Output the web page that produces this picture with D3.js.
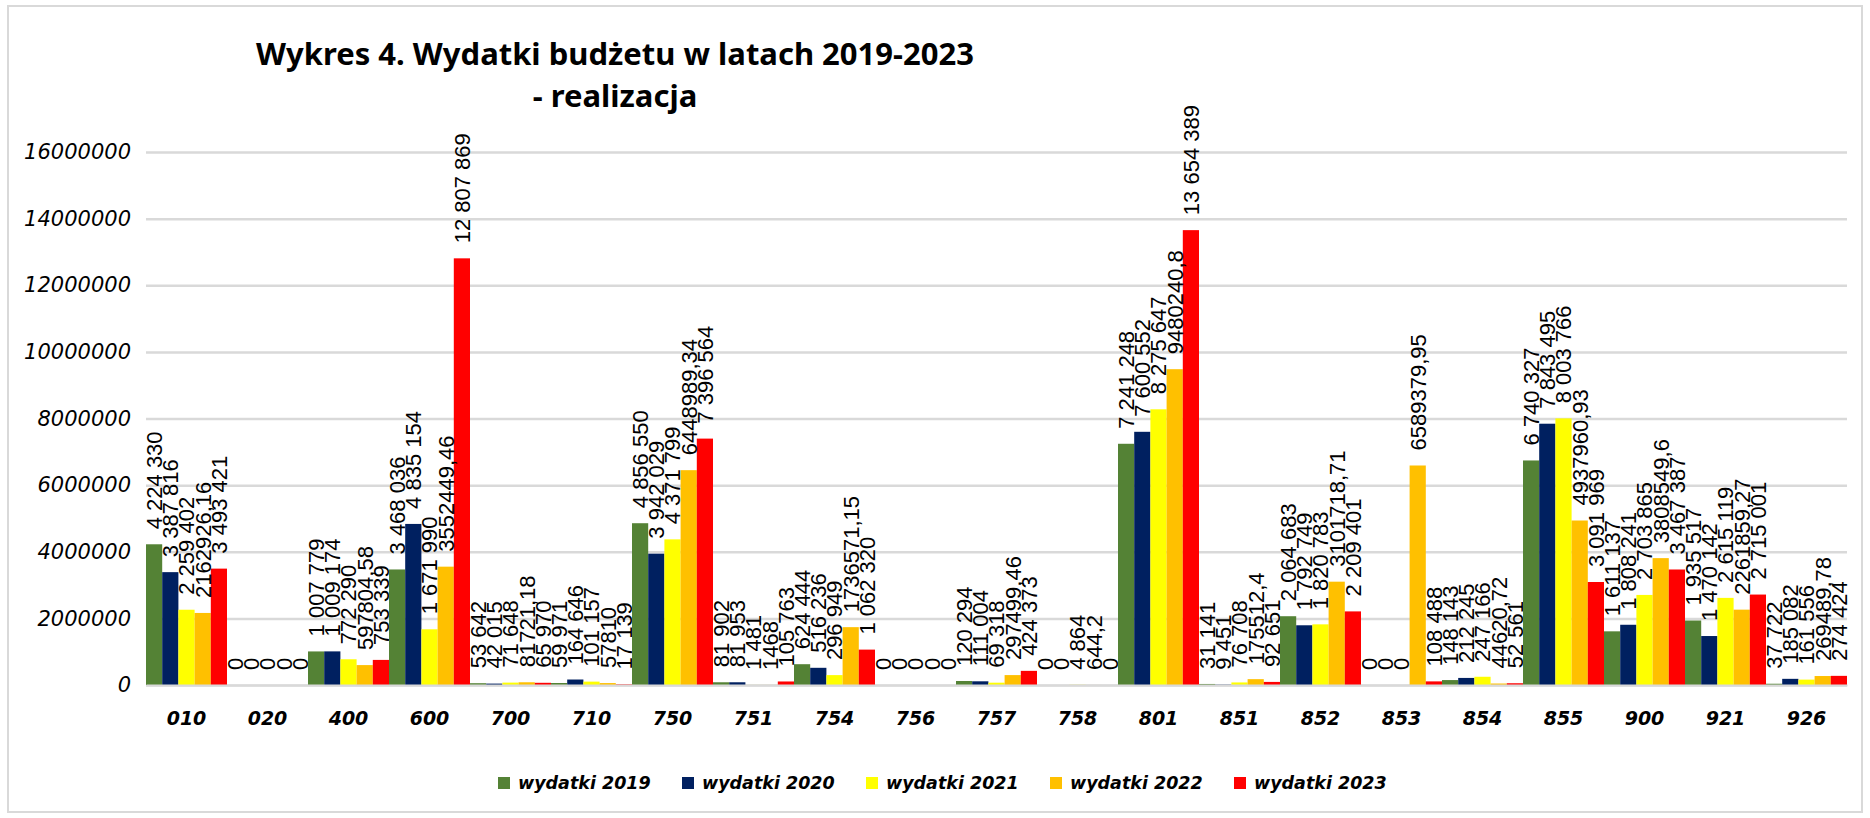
<!DOCTYPE html>
<html><head><meta charset="utf-8">
<script src="https://cdn.jsdelivr.net/npm/d3@7"></script>
<style>body{margin:0;background:#fff}svg{display:block}</style>
</head><body><svg id="c" width="1870" height="818"></svg>
<script>
const categories = ["010","020","400","600","700","710","750","751","754","756","757","758","801","851","852","853","854","855","900","921","926"];
const seriesNames = ["wydatki 2019","wydatki 2020","wydatki 2021","wydatki 2022","wydatki 2023"];
const v2019 = [4224330,0,1007779,3468036,53642,59971,4856550,81902,624444,0,120294,0,7241248,31141,2064683,0,148143,6740327,1611137,1935517,37722];
const v2020 = [3387816,0,1009174,4835154,42015,164646,3942029,81953,516236,0,111004,0,7600552,9451,1792749,0,212245,7843495,1808241,1470142,185082];
const v2021 = [2259402,0,772290,1671990,71648,101157,4371799,1481,296949,0,69318,4864,8275647,76708,1820783,0,247166,8003766,2703865,2615119,161556];
const v2022 = [2162926.16,0,597804.58,3552449.46,81721.18,57810,6448989.34,1468,1736571.15,0,297499.46,644.2,9480240.8,175512.4,3101718.71,6589379.95,44620.72,4937960.93,3808549.6,2261859.27,269489.78];
const v2023 = [3493421,0,753339,12807869,65970,17139,7396564,105763,1062320,0,424373,0,13654389,92651,2209401,108488,52561,3091969,3467387,2715001,274424];
const yTicks = [0,2000000,4000000,6000000,8000000,10000000,12000000,14000000,16000000];
const titleLines = ["Wykres 4. Wydatki budżetu w latach 2019-2023","- realizacja"];
const colors = ["#548235","#002060","#FFFF00","#FFC000","#FF0000"];
const seriesValues = [v2019,v2020,v2021,v2022,v2023];

const svg = d3.select("#c");
svg.append("rect").attr("x",8).attr("y",6).attr("width",1854).attr("height",806)
  .attr("fill","#fff").attr("stroke","#D9D9D9").attr("stroke-width",2);

const pL=146,pR=1847,pT=152,pB=685;
const x0 = d3.scaleBand().domain(categories).range([pL,pR]).padding(0);
const x1 = d3.scaleBand().domain(seriesNames).range([0,x0.bandwidth()]).padding(0);
const y = d3.scaleLinear().domain([0,16000000]).range([pB,pT]);

// gridlines
const grid = svg.append("g").attr("transform",`translate(${pL},0)`)
  .call(d3.axisLeft(y).tickValues(yTicks).tickSize(-(pR-pL)).tickFormat(""));
grid.select(".domain").remove();
grid.selectAll("line").attr("stroke","#D9D9D9").attr("stroke-width",2.5);

// y labels
const ya = svg.append("g").attr("transform",`translate(${pL},0)`)
  .call(d3.axisLeft(y).tickValues(yTicks).tickSize(0).tickPadding(15).tickFormat(d3.format("d")));
ya.select(".domain").remove();
ya.selectAll("text").attr("font-family","DejaVu Sans").attr("font-style","italic")
  .attr("font-size","21px").attr("fill","#000");

// bars
const groups = svg.append("g").selectAll("g").data(categories).join("g")
  .attr("transform",d=>`translate(${x0(d)},0)`);
groups.each(function(cat,ci){
  const g = d3.select(this);
  seriesNames.forEach((s,si)=>{
    const v = seriesValues[si][ci];
    g.append("rect").attr("x",x1(s)).attr("width",x1.bandwidth())
      .attr("y",y(v)).attr("height",pB-y(v)).attr("fill",colors[si]);
  });
});

// x axis line
const xa = svg.append("g").attr("transform",`translate(0,${pB})`)
  .call(d3.axisBottom(x0).tickSize(0).tickPadding(27));
xa.select(".domain").attr("stroke","#D9D9D9").attr("stroke-width",2);
xa.selectAll("text").attr("font-family","DejaVu Sans").attr("font-style","italic")
  .attr("font-weight","bold").attr("font-size","19px").attr("fill","#000");

// data labels
function fmt(v,si){
  if(si===3) return String(v).replace(".",",");
  return d3.format(",")(v).replace(/,/g,"\u00a0");
}
groups.each(function(cat,ci){
  const g = d3.select(this);
  seriesNames.forEach((s,si)=>{
    const v = seriesValues[si][ci];
    const cx = x1(s)+x1.bandwidth()/2;
    const ty = y(v)-15;
    g.append("text").attr("transform",`translate(${cx},${ty}) rotate(-90)`)
      .attr("dy","0.36em").attr("font-family","Liberation Sans").attr("font-size","22px")
      .attr("fill","#000").text(fmt(v,si));
  });
});

// title
svg.append("g").selectAll("text").data(titleLines).join("text")
  .attr("x",615).attr("y",(d,i)=>65+i*42).attr("text-anchor","middle")
  .attr("font-family","Noto Sans").attr("font-weight","bold").attr("font-size","31px")
  .attr("fill","#000").text(d=>d);

// legend
const legend = svg.append("g").attr("transform","translate(498,783)");
const li = legend.selectAll("g").data(seriesNames).join("g")
  .attr("transform",(d,i)=>`translate(${i*184},0)`);
li.append("rect").attr("x",0).attr("y",-6).attr("width",12).attr("height",12).attr("fill",(d,i)=>colors[i]);
li.append("text").attr("x",20).attr("dy","0.35em").attr("font-family","DejaVu Sans")
  .attr("font-style","italic").attr("font-weight","bold").attr("font-size","17.5px").attr("fill","#000").text(d=>d);
</script></body></html>
